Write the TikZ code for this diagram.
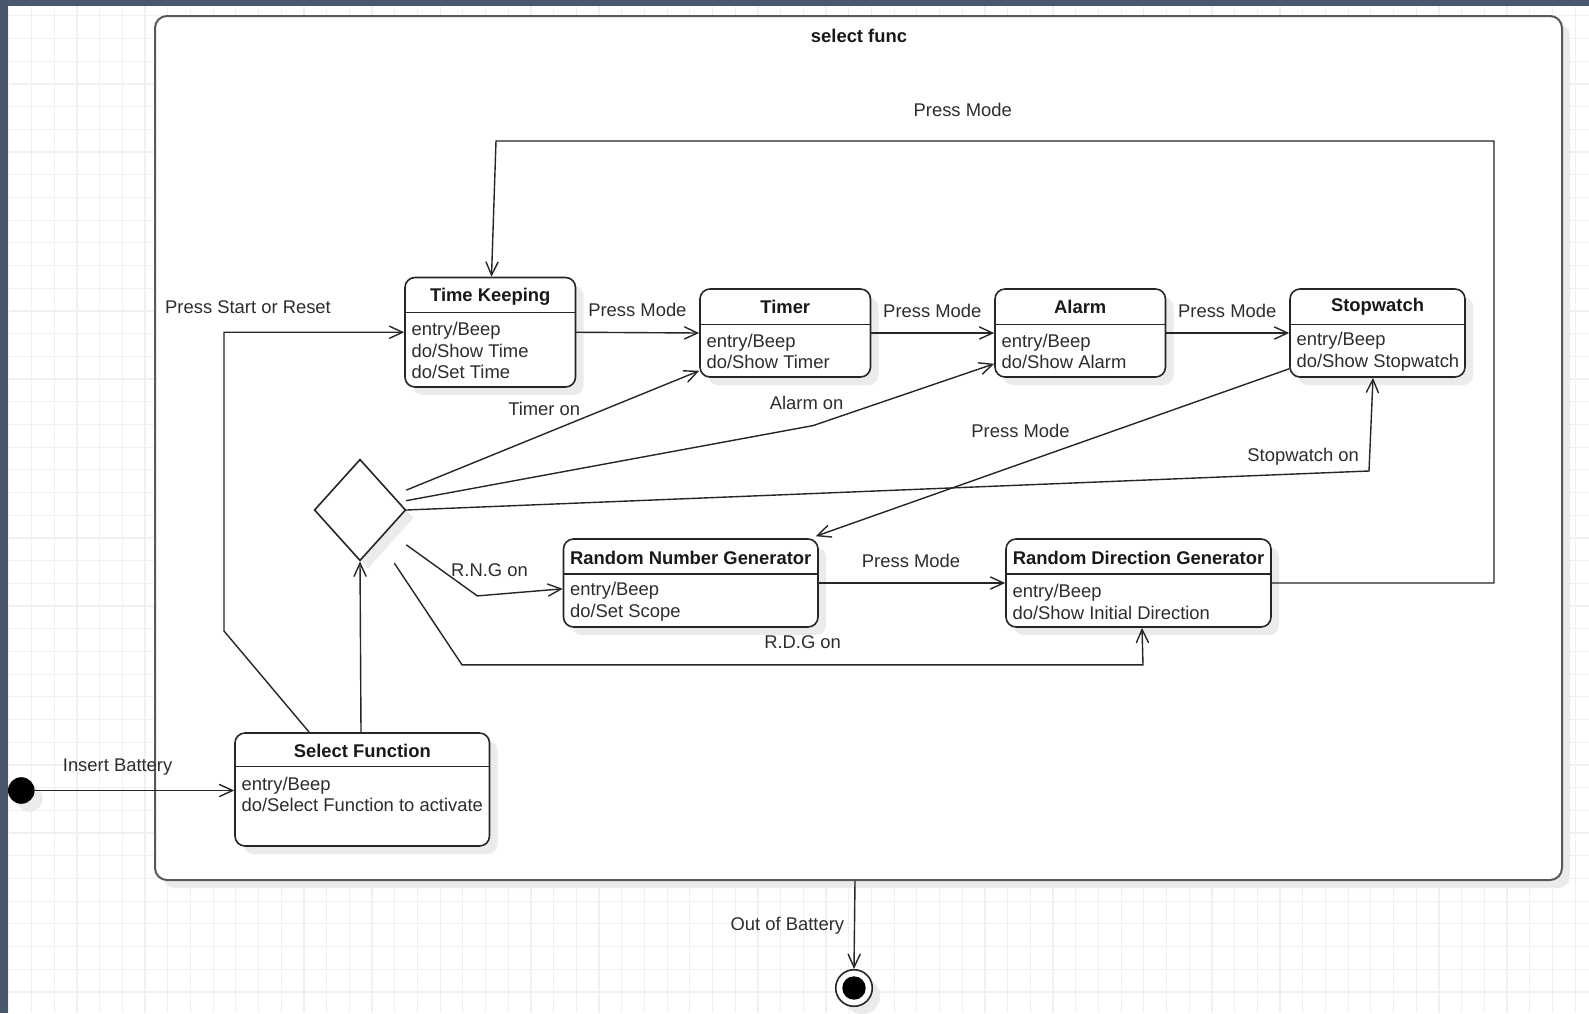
\documentclass[tikz,border=0pt]{standalone}
\usepackage{fontspec}
\setmainfont{Liberation Sans}
\usetikzlibrary{arrows.meta,shapes.geometric,calc,shadows}

\definecolor{framebg}{RGB}{72,87,108}
\definecolor{gridc}{RGB}{240,240,240}
\definecolor{ink}{RGB}{45,45,45}
\definecolor{shadowc}{RGB}{235,235,235}

\begin{document}
\begin{tikzpicture}[x=0.5pt,y=-0.5pt,
  font=\fontsize{9.2}{10.8}\selectfont,
  every node/.style={text=ink},
  softshadow/.style={drop shadow={shadow xshift=4pt,shadow yshift=-4pt,fill=shadowc,opacity=1}},
  statebox/.style={draw=black!85,line width=0.8pt,rounded corners=5pt,fill=white,inner sep=0pt,softshadow},
  ttl/.style={font=\fontsize{9.2}{10.8}\selectfont\bfseries,text=black!90,inner sep=0pt,yshift=-1pt},
  body/.style={align=left,anchor=west,inner sep=0pt,yshift=-0.75pt},
  lbl/.style={inner sep=0pt,yshift=-0.4pt},
  wire/.style={draw=black!85,line width=0.7pt},
  conn/.style={wire,line cap=round,-{Straight Barb[length=6.5pt,width=6pt,line cap=round]}},
]
\useasboundingbox (0,0) rectangle (1589,1013);

% canvas with grid
\fill[white] (0,0) rectangle (1589,1013);
\foreach \i in {0,...,70}
  \draw[gridc,line width=0.6pt] ({8.8+22.7*\i},0) -- ({8.8+22.7*\i},1013);
\foreach \j in {0,...,44}
  \draw[gridc,line width=0.6pt] (0,{15.8+22.7*\j}) -- (1589,{15.8+22.7*\j});
\fill[framebg] (0,0) rectangle (1589,6);
\fill[framebg] (0,0) rectangle (8,1013);

% composite state
\node[draw=black!65,line width=1pt,rounded corners=6pt,fill=white,
      minimum width=703.5pt,minimum height=432pt,inner sep=0pt,softshadow] (frame) at (858.5,448) {};
\node[ttl] (frameT) at (859,34) {select func};

% Time Keeping
\node[statebox,minimum width=85.25pt,minimum height=54.75pt] (tk) at (490.25,332.25) {};
\draw[wire] ($(tk.north west)+(0,35.5)$) -- ($(tk.north east)+(0,35.5)$);
\node[ttl] (tkT) at ($(tk.north)+(0,17.75)$) {Time Keeping};
\node[body] (tkB) at ($(tk.west)+(7,16.75)$) {entry/Beep\\do/Show Time\\do/Set Time};

% Timer
\node[statebox,minimum width=85.25pt,minimum height=44pt] (timer) at (785.25,333) {};
\draw[wire] ($(timer.north west)+(0,36)$) -- ($(timer.north east)+(0,36)$);
\node[ttl] (timerT) at ($(timer.north)+(0,17)$) {Timer};
\node[body] (timerB) at ($(timer.west)+(7,17)$) {entry/Beep\\do/Show Timer};

% Alarm
\node[statebox,minimum width=85.25pt,minimum height=44pt] (alarm) at (1080.25,333) {};
\draw[wire] ($(alarm.north west)+(0,36)$) -- ($(alarm.north east)+(0,36)$);
\node[ttl] (alarmT) at ($(alarm.north)+(0,17)$) {Alarm};
\node[body] (alarmB) at ($(alarm.west)+(7,17)$) {entry/Beep\\do/Show Alarm};

% Stopwatch
\node[statebox,minimum width=87.5pt,minimum height=44pt] (sw) at (1377.5,333) {};
\draw[wire] ($(sw.north west)+(0,36)$) -- ($(sw.north east)+(0,36)$);
\node[ttl] (swT) at ($(sw.north)+(0,17)$) {Stopwatch};
\node[body] (swB) at ($(sw.west)+(7,17)$) {entry/Beep\\do/Show Stopwatch};

% Random Number Generator
\node[statebox,minimum width=127.25pt,minimum height=44pt] (rng) at (690.75,583) {};
\draw[wire] ($(rng.north west)+(0,35.6)$) -- ($(rng.north east)+(0,35.6)$);
\node[ttl] (rngT) at ($(rng.north)+(0,17.3)$) {Random Number Generator};
\node[body] (rngB) at ($(rng.west)+(7,17.4)$) {entry/Beep\\do/Set Scope};

% Random Direction Generator
\node[statebox,minimum width=132.5pt,minimum height=44pt] (rdg) at (1138.5,583) {};
\draw[wire] ($(rdg.north west)+(0,35.6)$) -- ($(rdg.north east)+(0,35.6)$);
\node[ttl] (rdgT) at ($(rdg.north)+(0,17.3)$) {Random Direction Generator};
\node[body] (rdgB) at ($(rdg.west)+(7,17.4)$) {entry/Beep\\do/Show Initial Direction};

% Select Function
\node[statebox,minimum width=127.25pt,minimum height=56.5pt] (sf) at (362.25,789.5) {};
\draw[wire] ($(sf.north west)+(0,34)$) -- ($(sf.north east)+(0,34)$);
\node[ttl] (sfT) at ($(sf.north)+(0,17)$) {Select Function};
\node[body] (sfB) at ($(sf.west)+(7,3.5)$) {entry/Beep\\do/Select Function to activate};

% choice
\node[draw=black!85,line width=0.8pt,diamond,fill=white,minimum width=45.75pt,
      minimum height=50.75pt,inner sep=0pt,softshadow] (dia) at (360,510) {};

% pseudo states
\node[circle,fill=black,minimum size=13.3pt,inner sep=0pt,softshadow] (init) at (21.3,790.5) {};
\node[circle,draw=black!85,line width=0.8pt,fill=white,minimum size=18.3pt,inner sep=0pt,softshadow] (fin) at (854,988) {};
\node[circle,fill=black,minimum size=11.7pt,inner sep=0pt] (finDot) at (fin) {};

% transitions
\draw[conn] (tk.east) -- (timer.west);
\draw[conn] (timer.east) -- (alarm.west);
\draw[conn] (alarm.east) -- (sw.west);
\draw[conn] (rng.east) -- (rdg.west);
\draw[conn] (rdg.east) -| (1494,141) -- (496,141) -- ($(tk.north)+(1.25,0)$);
\draw[conn] ($(sw.south west)+(0,-9)$) -- ($(rng.north east)+(-3,-2)$);
\draw[conn] ($(dia.east)+(0,-20)$) -- ($(timer.south west)+(0,-7)$);
\draw[conn] ($(dia.east)+(0,-9.4)$) -- (813,425.6) -- ($(alarm.south west)+(0,-14)$);
\draw[conn] (dia.east) -- (1369,471) -- ($(sw.south)+(-4.5,0)$);
\draw[conn] ($(dia.east)+(0,35)$) -- (477.3,595.9) -- ($(rng.west)+(0,5.8)$);
\draw[conn] ($(dia.east)+(-12,53.5)$) -- (462,664.8) -- (1143,664.8) -- ($(rdg.south)+(3.5,0)$);
\draw[conn] ($(sf.north)+(-1.25,0)$) -- (dia.south);
\draw[conn] ($(sf.north west)+(75,0)$) -- (224,631) |- (tk.west);
\draw[conn] (init.east) -- (init.east -| sf.west);
\draw[conn] ($(frame.south)+(-3.5,0)$) -- (fin.north);

% transition labels
\node[lbl] (lTop) at (962.7,109.4) {Press Mode};
\node[lbl] (lTkTimer) at (637.4,309.1) {Press Mode};
\node[lbl] (lTimerAlarm) at (932.3,310.1) {Press Mode};
\node[lbl] (lAlarmSw) at (1227.2,310.1) {Press Mode};
\node[lbl] (lSwRng) at (1020.5,429.7) {Press Mode};
\node[lbl] (lRngRdg) at (911,560.4) {Press Mode};
\node[lbl] (lTimerOn) at (544.2,408.4) {Timer on};
\node[lbl] (lAlarmOn) at (806.6,402.3) {Alarm on};
\node[lbl] (lSwOn) at (1303.2,456) {Stopwatch on};
\node[lbl] (lRngOn) at (489.5,569.5) {R.N.G on};
\node[lbl] (lRdgOn) at (802.6,641.5) {R.D.G on};
\node[lbl] (lReset) at (248,306.6) {Press Start or Reset};
\node[lbl] (lBattery) at (117.6,766) {Insert Battery};
\node[lbl] (lOut) at (787.4,925) {Out of Battery};
\end{tikzpicture}
\end{document}
